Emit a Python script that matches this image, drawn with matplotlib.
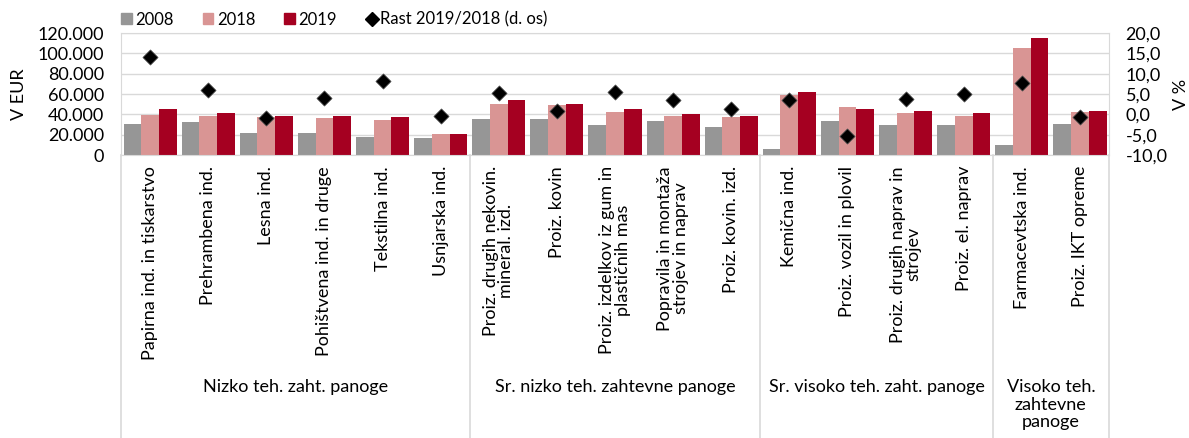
import matplotlib
matplotlib.use("Agg")
import matplotlib.pyplot as plt
from matplotlib.patches import Patch
from matplotlib.lines import Line2D
from matplotlib.ticker import FuncFormatter
import numpy as np

plt.rcParams["font.family"] = ["Lato", "DejaVu Sans"]

categories = [
    "Papirna ind. in tiskarstvo", "Prehrambena ind.", "Lesna ind.",
    "Pohištvena ind. in druge", "Tekstilna ind.", "Usnjarska ind.",
    "Proiz. drugih nekovin.\nmineral. izd.", "Proiz. kovin",
    "Proiz. izdelkov iz gum in\nplastičnih mas", "Popravila in montaža\nstrojev in naprav",
    "Proiz. kovin. izd.", "Kemična ind.", "Proiz. vozil in plovil",
    "Proiz. drugih naprav in\nstrojev", "Proiz. el. naprav",
    "Farmacevtska ind.", "Proiz. IKT opreme",
]
groups = ["Nizko teh. zaht. panoge", "Sr. nizko teh. zahtevne panoge",
          "Sr. visoko teh. zaht. panoge", "Visoko teh.\nzahtevne\npanoge"]
group_sizes = [6, 5, 4, 2]

v2008 = [30700, 32000, 21400, 21400, 18100, 17100, 35300, 35300, 30000,
         33300, 28000, 6300, 33300, 29700, 29300, 9600, 30300]
v2018 = [38900, 38200, 37600, 36300, 34300, 20400, 50400, 48800, 42200,
         38600, 37600, 59300, 47100, 40900, 38600, 105500, 42200]
v2019 = [45200, 41200, 38200, 38200, 37600, 21100, 54100, 50100, 45200,
         40600, 38600, 62000, 45500, 43200, 41200, 114700, 42900]
rast = [14.2, 6.0, -0.9, 4.1, 8.2, -0.3, 5.2, 0.8, 5.4, 3.6, 1.3, 3.6,
        -5.3, 3.8, 5.1, 7.8, -0.7]

C08, C18, C19 = "#969696", "#d99594", "#a50021"
GRID = "#d9d9d9"
FS = 13

fig = plt.figure(figsize=(11.89, 4.38), dpi=100)
ax = fig.add_axes([0.1018, 0.6461, 0.8309, 0.2785])
x = np.arange(len(categories))
w = 0.305
ax.bar(x - w, v2008, w, color=C08, zorder=2)
ax.bar(x, v2018, w, color=C18, zorder=2)
ax.bar(x + w, v2019, w, color=C19, zorder=2)

ax.set_xlim(-0.5, len(categories) - 0.5)
ax.set_ylim(0, 120000)
ax.set_yticks(range(0, 120001, 20000))
ax.yaxis.set_major_formatter(FuncFormatter(lambda v, p: f"{int(v):,}".replace(",", ".")))
ax.grid(True, axis="y", color=GRID, lw=1, zorder=0)
for s in ax.spines.values():
    s.set_color(GRID)
ax.tick_params(axis="y", length=0, labelsize=FS, pad=12)
ax.tick_params(axis="x", length=0, pad=8)
ax.set_xticks(x)
ax.set_xticklabels(categories, rotation=90, ha="center", va="top",
                   multialignment="center", fontsize=FS, linespacing=0.95)
ax.set_ylabel("V EUR", fontsize=FS, labelpad=8)

ax2 = ax.twinx()
ax2.scatter(x, rast, marker="D", s=60, color="black", edgecolor="#555555",
            linewidth=0.5, zorder=5)
ax2.set_ylim(-10, 20)
ax2.set_yticks(range(-10, 21, 5))
ax2.yaxis.set_major_formatter(FuncFormatter(lambda v, p: f"{v:.1f}".replace(".", ",")))
ax2.tick_params(axis="y", length=0, labelsize=FS, pad=12)
for s in ax2.spines.values():
    s.set_visible(False)
ax2.set_ylabel("V %", fontsize=FS, labelpad=4)

# group separators and labels below the axis
trans = ax.get_xaxis_transform()
bounds = np.concatenate([[0], np.cumsum(group_sizes)]) - 0.5
for b in bounds:
    ax.add_line(Line2D([b, b], [0, -2.33], transform=trans, color=GRID,
                       lw=1.2, clip_on=False))
for i, g in enumerate(groups):
    xc = (bounds[i] + bounds[i + 1]) / 2
    ax.text(xc, -1.84, g, transform=trans, ha="center", va="top",
            fontsize=FS, linespacing=1.1)

handles = [Patch(color=C08, label="2008"), Patch(color=C18, label="2018"),
           Patch(color=C19, label="2019"),
           Line2D([], [], marker="D", color="black", ls="none", markersize=7,
                  label="Rast 2019/2018 (d. os)")]
fig.legend(handles=handles, loc="upper left", bbox_to_anchor=(0.089, 1.008),
           ncol=4, frameon=False, fontsize=12, handlelength=0.65,
           handleheight=0.65, handletextpad=0.2, columnspacing=1.75)

fig.savefig("out.png", dpi=100)
